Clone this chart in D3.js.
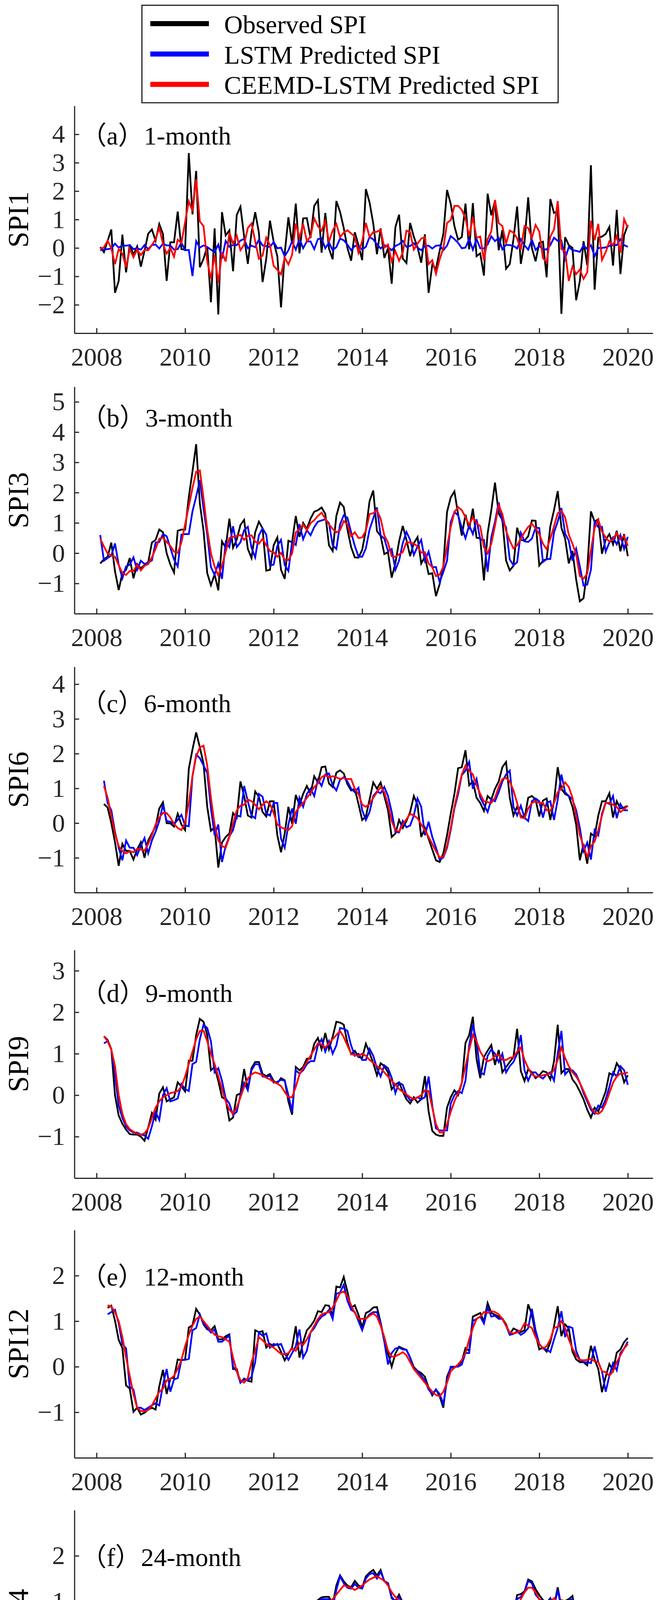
<!DOCTYPE html>
<html>
<head>
<meta charset="utf-8">
<script src="https://cdn.jsdelivr.net/npm/d3@7"></script>
<style>
  body { margin: 0; background: #fff; }
  svg { display: block; }
  text { font-family: "Liberation Serif", "Times New Roman", serif; }
</style>
</head>
<body>
<svg id="chart" width="1716" height="4635"></svg>
<script>
// monthly series, month index k = first month .. 144 (k/12 years after 2008.0)
var years = [2008, 2010, 2012, 2014, 2016, 2018, 2020];
var seriesNames = ["Observed SPI", "LSTM Predicted SPI", "CEEMD-LSTM Predicted SPI"];

var spi1Obs = [0.03,-0.15,0.25,0.65,-1.58,-1.16,0.47,-0.86,0.12,-0.24,0.05,-0.66,
  -0.1,0.5,0.65,0.26,0.84,0.49,-1.16,0.2,0.2,1.28,-0.04,-0.06,
  3.34,1.18,2.71,-0.68,-0.38,0.05,-1.91,0.69,-2.34,1.26,0.44,0.62,
  -0.82,1.16,1.45,0.4,-0.56,0.55,1.26,0.54,-1.2,-0.38,0.96,0.22,
  -0.29,-2.09,-0.2,1.08,0.15,1.56,-0.19,1.04,1.05,0.35,1.48,1.68,
  -0.17,1.23,-0.02,-0.4,1.65,1.27,0.7,0.0,-0.45,0.55,0.1,-0.43,
  2.07,1.6,0.86,-0.22,0.69,-0.35,-0.01,-1.26,0.73,1.17,-0.37,-0.53,
  0.88,0.39,0.03,-0.52,0.48,-1.58,-0.59,-0.73,-0.1,0.49,2.04,1.55,
  0.77,0.29,0.38,1.56,-0.05,1.58,-0.29,-0.19,-0.97,1.91,1.15,1.66,
  -0.08,0.63,-0.73,-0.57,0.3,1.46,-0.56,0.2,1.78,0.0,-0.47,0.18,
  0.22,-1.03,1.72,1.23,1.3,-2.32,0.38,0.1,0.0,-1.84,-1.16,0.24,
  -0.61,2.91,-1.47,0.36,0.4,0.49,0.74,-0.62,1.34,-0.92,0.45,0.81];
var spi1Lstm = [-0.08,-0.06,-0.04,-0.02,0.15,0.01,0.09,0.08,0.1,-0.04,-0.01,-0.06,
  0.1,-0.04,0.1,0.12,-0.02,0.15,0.09,0.09,-0.06,-0.04,0.19,-0.08,
  -0.07,-0.99,0.24,0.01,0.09,0.03,-0.06,-0.15,0.12,-0.38,0.25,0.04,
  0.1,0.1,0.26,0.32,-0.01,0.08,0.03,0.29,0.09,0.06,0.03,0.21,
  -0.01,0.01,-0.29,-0.08,0.23,-0.06,0.32,-0.01,0.23,0.23,-0.04,0.31,
  0.34,-0.01,0.19,-0.08,0.03,0.33,0.27,0.12,-0.08,0.07,0.07,-0.06,
  0.04,0.39,0.3,0.13,-0.02,0.1,0.03,-0.08,0.07,0.13,0.25,0.04,
  0.07,0.17,0.01,-0.08,0.07,0.08,-0.02,0.08,0.09,-0.08,0.08,0.42,
  0.31,0.18,-0.01,0.01,0.31,-0.06,0.31,-0.01,-0.02,0.12,0.41,0.24,
  0.35,-0.05,0.11,0.1,0.07,-0.02,0.31,0.09,-0.06,0.29,-0.07,0.07,
  -0.05,-0.05,0.1,0.36,0.25,0.26,-0.38,0.03,-0.08,-0.1,-0.14,0.09,
  -0.04,0.1,-0.29,0.0,0.0,0.02,0.07,0.1,0.1,0.31,0.1,0.04];
var spi1Ceemd = [-0.04,0.02,0.26,-0.01,-0.57,-0.04,-0.2,-0.68,-0.04,-0.33,-0.06,-0.25,
  -0.07,-0.08,0.1,0.31,0.71,0.15,-0.2,0.0,-0.31,0.29,0.17,0.91,
  1.64,1.3,2.42,0.93,0.77,-0.47,-1.08,-0.24,-1.23,-0.15,-0.48,0.54,
  0.15,0.43,-0.08,0.12,0.7,0.86,0.24,-0.38,-0.27,0.36,0.1,-0.63,
  -0.77,-0.93,-0.34,-0.58,-0.24,0.86,0.35,0.84,0.24,0.4,1.04,0.77,
  0.61,0.94,0.22,0.61,0.85,0.38,0.54,0.62,0.51,0.4,-0.17,0.24,
  0.88,0.39,0.56,0.57,0.64,0.01,0.12,-0.47,-0.11,-0.45,-0.17,0.61,
  0.55,-0.06,0.15,0.33,0.38,-0.57,-0.43,-0.91,-0.4,-0.01,0.88,0.98,
  1.48,1.48,1.34,1.04,0.41,1.08,0.36,0.4,-0.43,0.31,0.58,1.69,
  0.88,0.77,0.15,0.61,0.54,0.34,-0.06,0.77,0.7,0.35,0.81,0.58,
  -0.36,-0.5,0.4,0.65,1.65,-0.04,-0.11,-1.16,-0.66,-0.92,-0.76,-1.09,
  -0.86,0.96,0.27,0.85,-0.42,-0.15,0.23,0.1,0.42,-0.17,1.01,0.71];

var spi3Obs = [-0.34,-0.2,-0.12,0.35,-0.6,-1.22,-0.66,-0.55,-0.16,-0.83,-0.36,-0.5,
  -0.4,-0.3,0.35,0.44,0.78,0.69,0.0,-0.38,-0.64,0.74,0.78,0.78,
  1.85,2.7,3.6,1.64,0.74,-0.66,-1.06,-0.7,-1.23,0.39,0.18,1.14,
  0.18,0.45,0.93,1.1,0.14,-0.16,0.69,1.04,0.82,-0.58,-0.55,0.26,
  0.52,-0.55,-0.85,0.41,0.36,1.23,0.54,1.0,0.8,1.14,1.37,1.42,
  1.51,1.3,0.26,0.07,1.23,1.67,1.53,0.78,0.2,-0.14,-0.15,0.11,
  0.76,1.72,2.07,0.73,0.57,-0.03,0.03,-0.81,-0.33,0.39,0.9,0.44,
  -0.1,0.33,0.53,-0.34,-0.12,-0.69,-0.66,-1.42,-1.02,-0.42,1.36,1.84,
  2.04,1.29,0.58,1.27,0.79,1.47,0.51,0.49,-0.9,0.65,1.42,2.33,
  1.31,1.1,-0.24,-0.57,-0.42,0.84,0.44,0.41,0.56,1.08,1.07,-0.41,
  -0.25,-0.19,0.89,1.42,2.05,0.84,0.48,-0.34,0.07,-0.87,-1.59,-1.49,
  -0.55,1.38,1.04,1.12,-0.02,0.44,0.63,0.29,0.74,0.06,0.63,-0.1];
var spi3Lstm = [0.6,-0.25,-0.16,-0.08,0.32,-0.38,-0.83,-0.44,-0.38,-0.14,-0.55,-0.25,
  -0.36,-0.31,-0.24,0.35,0.37,0.63,0.56,0.18,-0.21,-0.44,0.61,0.63,
  0.63,1.38,1.87,2.41,1.47,0.61,-0.46,-0.72,-0.34,-0.85,0.36,0.2,
  0.89,0.2,0.36,0.76,0.87,0.18,-0.14,0.59,0.82,0.61,-0.4,-0.38,
  0.24,0.44,-0.39,-0.59,0.37,0.27,0.96,0.46,0.76,0.59,0.86,1.04,
  1.08,1.12,0.99,0.26,0.14,0.95,1.25,1.17,0.69,0.24,-0.11,-0.12,
  0.16,0.78,1.15,1.51,0.59,0.48,0.07,0.14,-0.55,-0.25,0.33,0.7,
  0.44,-0.06,0.22,0.44,-0.25,0.05,-0.46,-0.46,-0.96,-0.62,-0.25,1.02,
  1.36,1.25,0.84,0.49,0.92,0.63,1.12,0.44,0.44,-0.62,0.52,1.04,
  1.68,1.04,0.86,-0.21,-0.4,-0.3,0.67,0.39,0.37,0.48,0.84,0.83,
  -0.29,-0.2,-0.19,0.69,1.04,1.49,0.65,0.41,-0.25,0.14,-0.44,-1.07,
  -1.04,-0.55,1.04,0.86,0.87,0.05,0.35,0.52,0.29,0.6,0.14,0.54];
var spi3Ceemd = [0.48,0.22,-0.01,-0.08,-0.12,-0.4,-0.66,-0.72,-0.59,-0.59,-0.38,-0.57,
  -0.42,-0.36,-0.14,0.14,0.48,0.51,0.37,0.24,0.05,0.01,0.35,0.95,
  1.55,2.15,2.69,2.73,1.81,0.78,-0.01,-0.44,-0.74,-0.42,0.05,0.5,
  0.54,0.57,0.6,0.44,0.57,0.59,0.38,0.31,0.48,0.26,0.07,0.03,
  -0.12,0.01,-0.22,-0.23,-0.01,0.69,0.78,0.95,0.76,0.99,1.09,1.23,
  1.34,1.14,0.95,0.8,0.69,0.76,1.06,0.95,0.56,0.69,0.5,0.52,
  0.74,1.29,1.32,1.42,1.14,0.59,0.35,-0.1,-0.12,-0.04,0.03,0.36,
  0.35,0.31,0.23,0.02,0.03,-0.34,-0.46,-0.76,-0.71,-0.44,0.22,0.86,
  1.36,1.52,1.42,1.19,0.94,1.18,0.99,0.89,0.2,-0.01,0.31,0.91,
  1.59,1.29,0.74,0.41,0.16,0.26,0.48,0.69,0.87,0.97,0.82,0.63,
  0.31,0.13,0.48,0.89,1.32,1.4,1.19,0.61,0.31,-0.04,-0.76,-0.84,
  -0.68,0.09,0.83,1.1,0.71,0.52,0.38,0.46,0.67,0.46,0.57,0.24];

// SPI6 and SPI9 start at month 2
var spi6Obs = [0.55,0.45,0.0,-0.55,-1.23,-0.6,-0.8,-0.8,-1.05,-0.76,-0.55,-1.0,
  -0.5,-0.3,-0.1,0.42,0.6,0.0,-0.01,-0.1,0.27,-0.04,-0.2,1.56,
  2.12,2.61,2.18,1.71,0.47,-0.22,-0.12,-1.28,-0.56,-0.4,-0.3,0.29,
  0.16,1.2,0.78,0.22,0.16,0.91,0.76,0.32,0.19,0.63,0.63,-0.35,
  -0.84,-0.3,0.47,-0.02,0.81,0.53,0.84,1.07,0.84,1.35,1.17,1.61,
  1.63,1.14,1.04,1.45,1.52,1.43,1.12,0.94,0.99,0.55,0.09,0.19,
  0.68,1.17,0.99,1.17,0.78,0.37,-0.4,-0.3,0.09,-0.14,0.06,0.32,
  0.78,0.53,-0.4,-0.14,-0.45,-0.76,-1.07,-1.12,-0.87,-0.35,0.27,0.84,
  1.58,1.61,2.1,1.09,1.2,0.73,0.58,0.35,0.78,0.68,0.99,1.2,
  1.61,1.76,0.73,0.22,0.47,0.22,0.14,0.73,0.78,0.68,0.19,0.65,
  0.71,0.09,0.63,1.61,0.99,0.84,0.78,0.47,-0.04,-1.07,-0.6,-1.17,
  -0.3,-0.38,0.22,0.63,0.63,0.86,0.16,0.63,0.42,0.45,0.5];
var spi6Lstm = [1.22,0.58,0.37,-0.25,-0.71,-1.07,-0.5,-0.71,-0.71,-0.92,-0.66,-0.43,
  -0.87,-0.5,-0.25,0.06,0.53,0.06,0.04,-0.02,0.09,0.24,-0.07,-0.09,
  1.35,1.97,1.87,1.66,1.45,0.42,-0.35,-0.04,-1.12,-0.66,-0.38,-0.2,
  0.22,0.19,1.07,0.63,0.22,0.14,0.84,0.76,0.27,0.22,0.58,0.58,
  -0.45,-0.71,-0.04,0.42,-0.02,0.73,0.47,0.84,0.99,0.78,1.25,1.07,
  1.4,1.43,1.09,0.94,1.25,1.32,1.2,0.99,0.89,1.02,0.37,0.09,
  0.32,0.78,0.91,0.86,1.04,0.78,0.32,-0.25,-0.27,0.06,-0.12,-0.07,
  0.22,0.71,0.47,-0.35,0.04,-0.4,-0.71,-1.05,-0.99,-0.71,-0.2,0.42,
  0.84,1.38,1.51,1.76,0.99,1.27,0.73,0.53,0.32,0.68,0.63,0.89,
  1.2,1.4,1.51,0.47,0.22,0.5,0.16,0.06,0.63,0.71,0.63,0.16,
  0.58,0.63,0.09,0.68,1.4,0.89,0.78,0.68,0.37,-0.14,-0.81,-0.56,
  -1.05,-0.2,-0.35,0.27,0.6,0.55,0.78,0.14,0.55,0.37,0.37];
var spi6Ceemd = [1.07,0.73,0.22,-0.3,-0.66,-0.81,-0.87,-0.81,-0.84,-0.74,-0.76,-0.79,
  -0.6,-0.35,-0.04,0.16,0.29,0.29,0.16,-0.02,-0.14,-0.2,0.01,0.58,
  1.35,1.92,2.18,2.23,1.66,0.73,-0.04,-0.5,-0.66,-0.71,-0.4,-0.02,
  0.37,0.5,0.53,0.68,0.63,0.53,0.4,0.53,0.63,0.55,0.29,-0.04,
  -0.12,-0.17,-0.2,-0.09,0.32,0.47,0.58,0.73,0.86,1.04,1.14,1.32,
  1.38,1.32,1.35,1.32,1.27,1.3,1.27,1.27,0.99,0.84,0.53,0.47,
  0.55,0.73,0.89,1.04,0.89,0.53,0.06,-0.2,-0.25,-0.04,0.11,0.27,
  0.22,0.14,-0.04,-0.2,-0.4,-0.6,-0.81,-0.99,-0.97,-0.66,-0.14,0.47,
  0.94,1.4,1.66,1.51,1.4,1.09,0.84,0.63,0.6,0.58,0.73,1.04,
  1.27,1.3,1.2,0.94,0.58,0.16,0.14,0.42,0.58,0.63,0.58,0.58,
  0.37,0.35,0.58,0.89,0.99,1.17,1.04,0.73,0.22,-0.35,-0.66,-0.97,
  -0.66,-0.53,-0.2,0.22,0.58,0.58,0.53,0.47,0.32,0.4,0.5];

var spi9Obs = [1.42,1.33,1.11,0.0,-0.49,-0.69,-0.83,-0.94,-0.95,-0.95,-1.0,-1.1,
  -0.78,-0.43,-0.59,0.04,0.19,-0.15,-0.1,-0.05,0.31,0.21,0.09,0.83,
  0.83,1.45,1.84,1.77,1.45,0.6,0.68,0.34,-0.05,-0.1,-0.61,-0.54,
  0.0,0.04,0.63,0.14,0.65,0.8,0.8,0.51,0.46,0.51,0.34,0.29,
  0.41,0.36,-0.15,-0.47,0.68,0.6,0.68,0.88,0.88,1.24,1.38,1.11,
  1.5,1.11,1.41,1.77,1.75,1.7,1.26,0.99,1.07,0.92,0.9,1.24,
  1.02,0.77,0.48,0.77,0.7,0.55,0.14,0.26,0.31,0.09,-0.1,-0.2,
  -0.05,-0.18,-0.1,0.46,-0.39,-0.86,-0.95,-0.98,-0.98,-0.3,-0.05,0.12,
  0.0,0.29,1.26,1.45,1.89,0.87,0.41,0.92,1.07,1.21,0.73,1.09,
  0.55,0.68,0.8,0.92,1.6,0.58,0.34,0.63,0.55,0.41,0.48,0.58,
  0.55,0.38,0.82,1.7,0.53,0.63,0.63,0.38,0.26,0.09,-0.1,-0.35,
  -0.54,-0.3,-0.39,-0.15,0.09,0.53,0.48,0.77,0.63,0.31,0.48];
var spi9Lstm = [1.25,1.3,1.1,0.5,-0.25,-0.55,-0.75,-0.85,-0.9,-0.9,-0.95,-0.97,
  -1.05,-0.75,-0.4,-0.6,0.0,0.17,-0.15,-0.12,-0.08,0.27,0.15,0.1,
  0.75,0.8,1.35,1.7,1.62,1.3,0.55,0.65,0.35,-0.08,-0.2,-0.48,
  -0.4,0.0,0.3,0.12,0.6,0.75,0.74,0.45,0.44,0.47,0.3,0.32,
  0.37,0.35,0.0,-0.4,0.6,0.52,0.6,0.75,0.82,0.82,1.2,1.35,
  1.05,1.3,1.0,1.2,1.62,1.6,1.55,1.2,0.95,1.0,0.85,0.85,
  1.12,0.95,0.65,0.45,0.72,0.65,0.42,0.05,0.3,0.25,0.0,-0.12,
  -0.1,-0.05,-0.1,-0.05,0.45,-0.25,-0.8,-0.85,-0.85,-0.85,-0.2,0.0,
  0.1,0.05,0.35,1.2,1.7,1.3,0.55,0.5,0.95,1.1,1.0,0.8,
  1.0,0.55,0.7,0.8,1.0,1.45,0.6,0.35,0.55,0.55,0.45,0.4,
  0.5,0.55,0.35,1.0,1.55,0.5,0.6,0.6,0.5,0.3,0.05,-0.15,
  -0.35,-0.45,-0.25,-0.3,-0.1,0.2,0.55,0.45,0.7,0.6,0.25];
var spi9Ceemd = [1.42,1.3,1.1,0.7,0.0,-0.45,-0.7,-0.82,-0.88,-0.93,-0.95,-0.92,
  -0.8,-0.55,-0.3,-0.15,-0.05,0.0,0.05,0.07,0.1,0.2,0.45,0.75,
  1.05,1.35,1.55,1.55,1.3,1.0,0.75,0.45,0.15,-0.15,-0.35,-0.45,
  -0.3,-0.05,0.2,0.4,0.5,0.55,0.52,0.48,0.42,0.38,0.32,0.28,
  0.22,0.08,-0.05,-0.05,0.2,0.5,0.65,0.8,0.95,1.1,1.25,1.22,
  1.15,1.25,1.35,1.45,1.55,1.4,1.2,1.0,0.96,0.95,1.0,0.95,
  0.85,0.78,0.7,0.65,0.55,0.45,0.35,0.25,0.15,0.08,0.02,-0.05,
  -0.1,-0.05,0.0,0.12,0.1,-0.3,-0.7,-0.9,-0.9,-0.7,-0.4,-0.15,
  0.05,0.3,0.7,1.1,1.45,1.3,1.05,0.9,0.82,0.85,0.95,0.98,
  0.85,0.85,0.9,0.92,1.05,1.15,0.85,0.65,0.5,0.45,0.45,0.48,
  0.5,0.52,0.6,0.85,1.15,0.9,0.7,0.55,0.45,0.3,0.1,-0.1,
  -0.3,-0.42,-0.45,-0.38,-0.2,0.05,0.3,0.45,0.52,0.52,0.55];

// SPI12 starts at month 3
var spi12Obs = [1.29,1.34,1.01,0.59,0.41,-0.41,-0.48,-0.99,-0.9,-1.05,-1.01,-0.94,
  -0.9,-0.94,-0.43,-0.07,-0.6,-0.26,-0.24,0.16,0.14,0.16,0.86,0.91,
  1.27,1.14,0.93,0.82,0.8,0.89,0.6,0.6,0.67,0.71,-0.05,-0.05,
  -0.35,-0.26,-0.31,-0.33,0.8,0.76,0.78,0.42,0.5,0.46,0.5,0.33,
  0.14,0.29,0.42,0.89,0.2,0.54,0.8,0.89,1.01,1.22,1.2,1.35,
  1.34,1.12,1.76,1.74,1.97,1.65,1.29,1.35,1.14,0.86,1.18,1.22,
  1.3,1.31,0.97,0.59,0.29,0.0,0.29,0.44,0.4,0.37,0.2,-0.01,
  -0.09,-0.14,-0.22,-0.46,-0.63,-0.5,-0.65,-0.9,-0.22,-0.02,-0.02,0.03,
  0.12,0.41,0.35,1.1,1.14,1.18,0.99,1.4,1.18,1.14,1.1,1.06,
  0.93,0.71,0.84,0.8,0.76,0.8,1.37,1.14,0.71,0.38,0.42,0.33,
  0.54,0.89,1.33,0.67,0.93,0.84,0.33,0.16,0.1,0.1,0.03,0.46,
  0.16,-0.05,-0.56,-0.22,0.06,-0.09,0.31,0.38,0.54,0.63];
var spi12Lstm = [1.15,1.2,1.25,0.95,0.5,0.4,-0.45,-0.5,-0.9,-0.9,-0.95,-0.9,
  -0.85,-0.8,-0.85,-0.4,-0.05,-0.55,-0.28,-0.25,0.15,0.15,0.17,0.8,
  0.85,1.15,0.95,0.85,0.75,0.82,0.55,0.55,0.62,0.68,0.0,-0.1,
  -0.35,-0.28,-0.3,-0.22,0.1,0.75,0.68,0.73,0.42,0.5,0.48,0.5,
  0.3,0.15,0.3,0.45,0.82,0.2,0.35,0.75,0.85,1.0,1.1,1.15,
  1.25,1.05,1.6,1.63,1.8,1.45,1.25,1.2,1.0,0.8,1.05,1.15,
  1.2,1.2,0.95,0.55,0.05,0.3,0.4,0.42,0.38,0.37,0.2,-0.05,
  -0.1,-0.2,-0.3,-0.5,-0.6,-0.5,-0.6,-0.82,-0.3,0.0,0.0,0.0,
  0.05,0.3,0.3,1.0,1.05,1.1,0.95,1.3,1.1,1.12,1.05,1.05,
  0.9,0.7,0.72,0.78,0.7,0.75,0.85,1.27,0.8,0.5,0.4,0.38,
  0.32,0.6,0.85,1.22,0.65,0.88,0.85,0.35,0.15,0.1,0.1,0.08,
  0.45,0.1,-0.1,-0.55,-0.2,0.08,-0.08,0.3,0.4,0.55];
var spi12Ceemd = [1.35,1.32,1.2,1.0,0.65,0.2,-0.2,-0.6,-0.9,-0.97,-0.98,-0.95,
  -0.85,-0.7,-0.55,-0.48,-0.3,-0.27,-0.2,-0.05,0.15,0.45,0.7,0.9,
  1.05,1.1,1.0,0.9,0.8,0.7,0.67,0.65,0.6,0.55,0.2,-0.1,
  -0.3,-0.35,-0.25,0.1,0.35,0.65,0.58,0.5,0.46,0.42,0.35,0.28,
  0.27,0.3,0.4,0.35,0.52,0.48,0.6,0.75,0.9,1.05,1.15,1.18,
  1.2,1.3,1.45,1.62,1.65,1.55,1.35,1.18,1.05,1.05,1.05,1.12,
  1.17,1.1,0.9,0.65,0.35,0.22,0.23,0.27,0.32,0.25,0.1,-0.05,
  -0.15,-0.25,-0.35,-0.45,-0.55,-0.62,-0.65,-0.55,-0.35,-0.1,-0.02,0.05,
  0.15,0.3,0.6,0.85,1.05,1.1,1.2,1.18,1.22,1.2,1.15,1.05,
  0.9,0.75,0.73,0.75,0.8,0.95,0.9,0.85,0.65,0.5,0.4,0.45,
  0.6,0.85,0.88,1.0,0.85,0.6,0.4,0.25,0.15,0.14,0.15,0.17,
  0.12,0.1,-0.1,-0.12,-0.2,-0.1,0.1,0.25,0.4,0.5];

// SPI24 starts at month 5
var spi24Obs = [0.15,0.11,0.39,0.28,0.4,0.33,0.36,0.33,0.33,0.35,0.39,0.39,
  0.42,0.15,-0.1,-0.51,-0.55,-0.55,-0.55,-0.57,-0.02,0.07,0.37,0.33,
  0.36,0.48,0.15,0.33,0.24,0.45,0.51,0.56,0.54,0.58,0.63,0.63,
  0.41,0.39,0.98,1.01,0.84,0.63,0.73,0.75,0.28,0.15,-0.19,-0.02,
  0.15,0.41,0.6,0.67,0.98,0.82,0.93,1.03,1.09,1.1,1.1,0.93,
  1.35,1.57,1.44,1.35,1.31,1.45,1.35,1.31,1.55,1.63,1.69,1.57,
  1.69,1.44,1.4,1.07,1.01,1.15,0.97,0.78,0.84,0.8,0.8,0.75,
  0.5,-0.02,-0.27,-0.35,-0.25,-0.27,0.07,0.2,0.03,-0.09,-0.12,0.11,
  0.07,0.41,0.37,0.48,0.26,0.39,0.58,0.8,0.75,0.73,0.71,0.71,
  0.69,1.14,1.16,1.22,1.48,1.44,1.27,1.14,1.03,0.97,1.07,0.9,
  1.31,0.88,1.01,1.05,1.12,0.67,0.41,0.26,0.26,0.46,0.45,0.51,
  0.54,0.37,0.5,0.41,0.37,0.33,0.39,0.45];
var spi24Lstm = [0.2,0.15,0.15,0.35,0.27,0.37,0.33,0.35,0.32,0.33,0.34,0.37,
  0.37,0.38,0.3,0.0,-0.42,-0.5,-0.5,-0.48,-0.52,0.0,0.15,0.32,
  0.25,0.35,0.42,0.2,0.35,0.25,0.45,0.5,0.55,0.5,0.52,0.58,
  0.6,0.38,0.38,0.95,0.95,0.75,0.6,0.72,0.72,0.3,0.15,-0.15,
  0.0,0.15,0.55,0.6,0.75,0.95,0.82,1.0,1.05,1.05,1.05,0.88,
  1.25,1.55,1.4,1.3,1.28,1.38,1.3,1.28,1.5,1.6,1.62,1.5,
  1.65,1.45,1.4,1.1,1.0,1.1,0.95,0.75,0.8,0.78,0.78,0.72,
  0.55,0.15,-0.25,-0.32,-0.22,-0.2,0.1,0.2,0.12,0.02,-0.05,0.15,
  0.05,0.4,0.3,0.45,0.28,0.45,0.65,0.72,0.72,0.68,0.65,0.65,
  0.62,1.05,1.1,1.2,1.45,1.4,1.15,1.05,1.0,0.95,1.05,0.88,
  1.25,0.85,0.95,1.02,1.05,0.7,0.35,0.25,0.25,0.45,0.42,0.48,
  0.35,0.58,0.45,0.4,0.35,0.32,0.35,0.38];
var spi24Ceemd = [0.25,0.22,0.25,0.3,0.33,0.35,0.35,0.34,0.33,0.35,0.36,0.37,
  0.36,0.28,0.05,-0.25,-0.45,-0.55,-0.58,-0.52,-0.3,0.0,0.15,0.3,
  0.32,0.3,0.28,0.3,0.35,0.4,0.45,0.5,0.53,0.55,0.53,0.5,
  0.52,0.6,0.68,0.75,0.8,0.8,0.7,0.5,0.25,0.05,-0.02,0.0,
  0.15,0.35,0.55,0.7,0.75,0.85,0.9,0.95,0.98,0.99,0.98,1.05,
  1.15,1.25,1.35,1.33,1.3,1.25,1.3,1.35,1.42,1.48,1.52,1.55,
  1.5,1.45,1.35,1.2,1.1,1.02,0.95,0.88,0.82,0.8,0.78,0.75,
  0.6,0.3,0.0,-0.2,-0.28,-0.25,-0.1,0.0,0.05,0.0,0.02,0.05,
  0.2,0.3,0.35,0.38,0.38,0.42,0.5,0.6,0.7,0.72,0.7,0.68,
  0.7,0.85,1.05,1.2,1.3,1.3,1.2,1.05,0.98,0.97,1.0,1.07,
  0.97,1.03,1.0,0.95,0.8,0.55,0.38,0.33,0.33,0.38,0.42,0.43,
  0.42,0.45,0.4,0.43,0.42,0.4,0.37,0.35];

// layout of the six stacked panels (pixels of the 1716 x 4635 page)
var panels = [
    {label: "SPI1",  title: "（a）1-month",  start: 1, series: [spi1Obs, spi1Lstm, spi1Ceemd],   yDomain: [-3, 5],   yTicks: [-2, -1, 0, 1, 2, 3, 4], top: 271,  bottom: 853,  titleDy: 99},
    {label: "SPI3",  title: "（b）3-month",  start: 1, series: [spi3Obs, spi3Lstm, spi3Ceemd],   yDomain: [-2, 5.5], yTicks: [-1, 0, 1, 2, 3, 4, 5],  top: 990,  bottom: 1571, titleDy: 102},
    {label: "SPI6",  title: "（c）6-month",  start: 2, series: [spi6Obs, spi6Lstm, spi6Ceemd],   yDomain: [-2, 4.5], yTicks: [-1, 0, 1, 2, 3, 4],     top: 1707, bottom: 2285, titleDy: 116},
    {label: "SPI9",  title: "（d）9-month",  start: 2, series: [spi9Obs, spi9Lstm, spi9Ceemd],   yDomain: [-2, 3.5], yTicks: [-1, 0, 1, 2, 3],        top: 2432, bottom: 3016, titleDy: 133},
    {label: "SPI12", title: "（e）12-month", start: 3, series: [spi12Obs, spi12Lstm, spi12Ceemd], yDomain: [-2, 3],   yTicks: [-1, 0, 1, 2],           top: 3149, bottom: 3732, titleDy: 142},
    {label: "SPI24", title: "（f）24-month", start: 5, series: [spi24Obs, spi24Lstm, spi24Ceemd], yDomain: [-2, 3],   yTicks: [-1, 0, 1, 2],           top: 3866, bottom: 4450, titleDy: 143}
];

var colors = ["#000000", "#0000ff", "#ff0000"],
    axisColor = "#262626",
    fontSize = 66;

var svg = d3.select("#chart");

var x = d3.scaleLinear().domain([2007.5, 2020.565]).range([190.6, 1672]);

function drawPanel(p) {
    var y = d3.scaleLinear().domain(p.yDomain).range([p.bottom, p.top]),
        g = svg.append("g");

    // observed, LSTM, CEEMD-LSTM (red on top)
    p.series.forEach(function (values, s) {
        var line = d3.line()
            .x(function (d, i) { return x(2008 + (p.start + i) / 12); })
            .y(function (d) { return y(d); });
        g.append("path")
            .datum(values)
            .attr("d", line)
            .attr("fill", "none")
            .attr("stroke", colors[s])
            .attr("stroke-width", 4.5)
            .attr("stroke-linejoin", "miter")
            .attr("stroke-miterlimit", 4);
    });

    var yAxis = g.append("g")
        .attr("transform", "translate(" + x.range()[0] + ",0)")
        .call(d3.axisLeft(y).tickValues(p.yTicks).tickFormat(d3.format("d"))
            .tickSizeInner(-12).tickSizeOuter(0).tickPadding(24));
    var xAxis = g.append("g")
        .attr("transform", "translate(0," + p.bottom + ")")
        .call(d3.axisBottom(x).tickValues(years).tickFormat(d3.format("d"))
            .tickSizeInner(-13).tickSizeOuter(0));

    [yAxis, xAxis].forEach(function (ax) {
        ax.select(".domain").attr("stroke", axisColor).attr("stroke-width", 3);
        ax.selectAll(".tick line").attr("stroke", axisColor).attr("stroke-width", 3);
        ax.selectAll("text")
            .attr("fill", axisColor)
            .style("font-family", '"Liberation Serif", "Times New Roman", serif')
            .style("font-size", fontSize + "px");
    });
    xAxis.selectAll("text").attr("y", 83).attr("dy", null);

    g.append("text")
        .attr("transform", "translate(72," + (p.top + p.bottom) / 2 + ") rotate(-90)")
        .attr("text-anchor", "middle")
        .style("font-size", "74px")
        .attr("fill", "#000")
        .text(p.label);

    g.append("text")
        .attr("x", 207)
        .attr("y", p.top + p.titleDy)
        .style("font-family", '"Liberation Serif", "Noto Sans CJK SC", serif')
        .style("font-size", fontSize + "px")
        .attr("fill", "#000")
        .text(p.title);
}

panels.forEach(drawPanel);

// x label
svg.append("text")
    .attr("x", 931)
    .attr("y", 4615)
    .attr("text-anchor", "middle")
    .style("font-size", "76px")
    .text("Year");

// legend
var legend = svg.append("g");
legend.append("rect")
    .attr("x", 363.5).attr("y", 13.5)
    .attr("width", 1066).attr("height", 249.5)
    .attr("fill", "#fff")
    .attr("stroke", axisColor)
    .attr("stroke-width", 3);
seriesNames.forEach(function (name, i) {
    var cy = 60.5 + i * 77.7;
    legend.append("line")
        .attr("x1", 385).attr("x2", 535)
        .attr("y1", cy).attr("y2", cy)
        .attr("stroke", colors[i])
        .attr("stroke-width", 13);
    legend.append("text")
        .attr("x", 574)
        .attr("y", cy + 24.5)
        .style("font-size", fontSize + "px")
        .text(name);
});
</script>
</body>
</html>
